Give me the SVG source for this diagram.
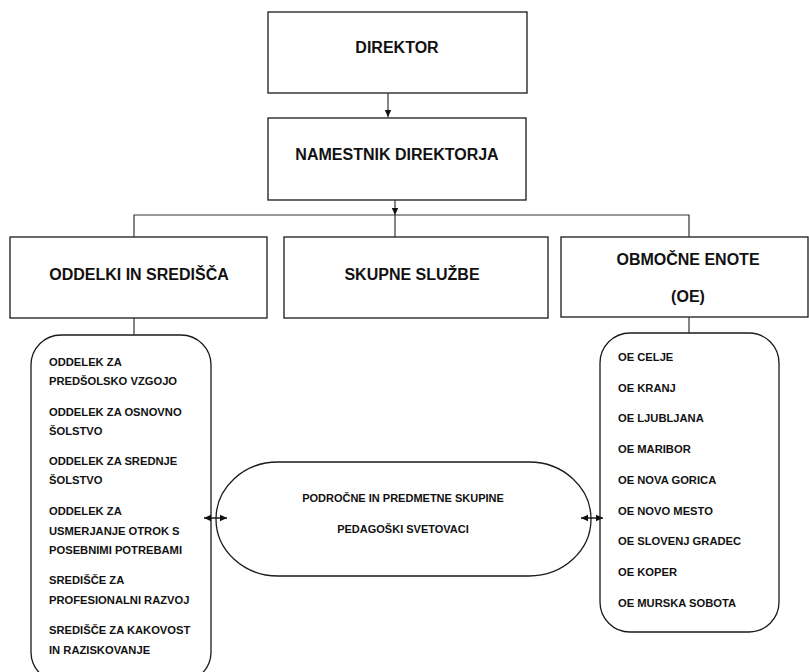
<svg xmlns="http://www.w3.org/2000/svg" width="809" height="672" viewBox="0 0 809 672">
<style>
.box{fill:#fff;stroke:#1a1a1a;stroke-width:1.3}
.conn{fill:none;stroke:#333;stroke-width:1.2}
.dbl{fill:none;stroke:#111;stroke-width:1.4}
.big{font-family:"Liberation Sans",Arial,sans-serif;font-weight:bold;font-size:16px;fill:#111;text-anchor:middle}
.sm{font-family:"Liberation Sans",Arial,sans-serif;font-weight:bold;font-size:11.2px;fill:#111}
.smc{font-family:"Liberation Sans",Arial,sans-serif;font-weight:bold;font-size:11px;fill:#111;text-anchor:middle}
</style>
<defs>
<marker id="ah" markerWidth="8" markerHeight="8" refX="7" refY="4" orient="auto" markerUnits="userSpaceOnUse">
<path d="M0,0.8 L7,4 L0,7.2 Z" fill="#111"/>
</marker>
<marker id="ahs" markerWidth="8" markerHeight="8" refX="7" refY="4" orient="auto-start-reverse" markerUnits="userSpaceOnUse">
<path d="M0,0.8 L7,4 L0,7.2 Z" fill="#111"/>
</marker>
</defs>
<rect width="809" height="672" fill="#fff"/>
<g id="direktor">
<rect class="box" x="268" y="12" width="259" height="81"/>
<text class="big" x="397" y="53">DIREKTOR</text>
</g>
<g id="namestnik">
<rect class="box" x="268" y="118" width="258" height="82"/>
<text class="big" x="397" y="160">NAMESTNIK DIREKTORJA</text>
</g>
<g id="oddelki">
<rect class="box" x="10" y="237" width="257" height="81"/>
<text class="big" x="139" y="280">ODDELKI IN SREDIŠČA</text>
</g>
<g id="skupne">
<rect class="box" x="284" y="237" width="264" height="81"/>
<text class="big" x="412" y="280">SKUPNE SLUŽBE</text>
</g>
<g id="obmocne">
<rect class="box" x="561" y="237" width="247" height="80"/>
<text class="big" x="688" y="265">OBMOČNE ENOTE</text>
<text class="big" x="688" y="302">(OE)</text>
</g>
<g id="oddelki-list">
<rect class="box" x="31" y="335" width="180" height="347" rx="30" ry="30"/>
<text class="sm" x="49" y="366">ODDELEK ZA</text>
<text class="sm" x="49" y="385">PREDŠOLSKO VZGOJO</text>
<text class="sm" x="49" y="416">ODDELEK ZA OSNOVNO</text>
<text class="sm" x="49" y="435">ŠOLSTVO</text>
<text class="sm" x="49" y="465">ODDELEK ZA SREDNJE</text>
<text class="sm" x="49" y="484">ŠOLSTVO</text>
<text class="sm" x="49" y="515">ODDELEK ZA</text>
<text class="sm" x="49" y="535">USMERJANJE OTROK S</text>
<text class="sm" x="49" y="554">POSEBNIMI POTREBAMI</text>
<text class="sm" x="49" y="584">SREDIŠČE ZA</text>
<text class="sm" x="49" y="604">PROFESIONALNI RAZVOJ</text>
<text class="sm" x="49" y="634">SREDIŠČE ZA KAKOVOST</text>
<text class="sm" x="49" y="654">IN RAZISKOVANJE</text>
</g>
<g id="skupine">
<rect class="box" x="216" y="462" width="375" height="114" rx="62" ry="57"/>
<text class="smc" x="403" y="502">PODROČNE IN PREDMETNE SKUPINE</text>
<text class="smc" x="403" y="533">PEDAGOŠKI SVETOVACI</text>
</g>
<g id="oe-list">
<rect class="box" x="600" y="333" width="179" height="299" rx="30" ry="30"/>
<text class="sm" x="618" y="361">OE CELJE</text>
<text class="sm" x="618" y="392">OE KRANJ</text>
<text class="sm" x="618" y="422">OE LJUBLJANA</text>
<text class="sm" x="618" y="453">OE MARIBOR</text>
<text class="sm" x="618" y="484">OE NOVA GORICA</text>
<text class="sm" x="618" y="515">OE NOVO MESTO</text>
<text class="sm" x="618" y="545">OE SLOVENJ GRADEC</text>
<text class="sm" x="618" y="576">OE KOPER</text>
<text class="sm" x="618" y="607">OE MURSKA SOBOTA</text>
</g>
<g id="connectors">
<line class="conn" x1="388" y1="93" x2="388" y2="117" marker-end="url(#ah)"/>
<line class="conn" x1="395" y1="200" x2="395" y2="215" marker-end="url(#ah)"/>
<polyline class="conn" points="134,237 134,215 689,215 689,237"/>
<line class="conn" x1="395" y1="215" x2="395" y2="237"/>
<line class="conn" x1="134" y1="318" x2="134" y2="335"/>
<line class="conn" x1="689" y1="317" x2="689" y2="333"/>
<line class="dbl" x1="204" y1="518" x2="227" y2="518" marker-start="url(#ahs)" marker-end="url(#ahs)"/>
<line class="dbl" x1="581" y1="518" x2="603" y2="518" marker-start="url(#ahs)" marker-end="url(#ahs)"/>
</g>
</svg>
